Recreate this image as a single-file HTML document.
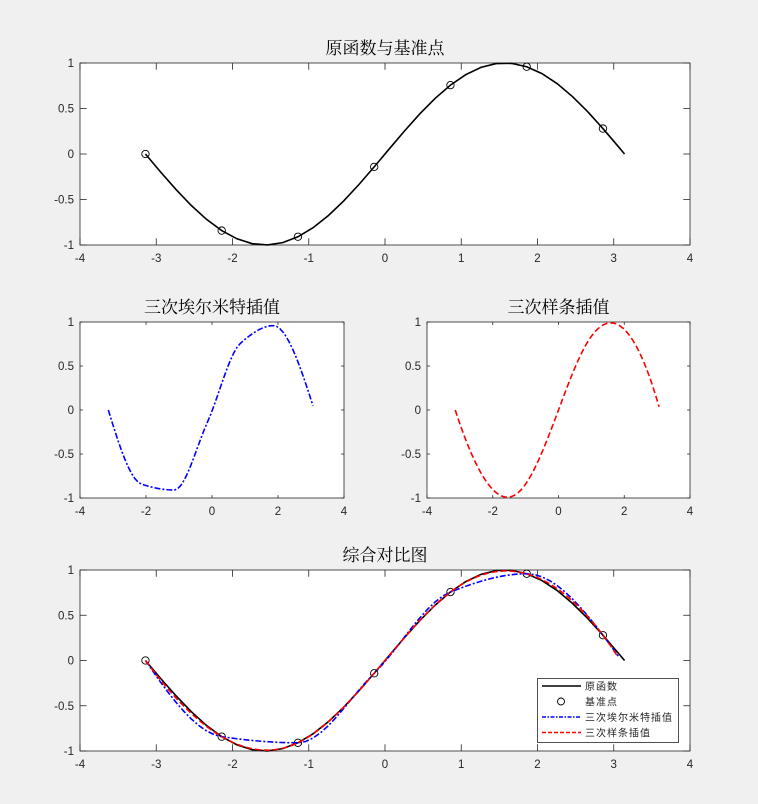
<!DOCTYPE html>
<html><head><meta charset="utf-8"><style>
body{margin:0;background:#f0f0f0;}
svg{display:block;}
.tk{font-family:"Liberation Sans",sans-serif;font-size:11.5px;fill:#262626;}
.tt{font-family:"Liberation Serif","Noto Serif CJK SC",serif;font-size:17px;fill:#000;}
.lg{font-family:"Liberation Sans","Noto Sans CJK SC",sans-serif;font-size:10px;fill:#262626;letter-spacing:1px;}
</style></head><body>
<svg id="fig" width="758" height="804" xmlns="http://www.w3.org/2000/svg"></svg>
<script>
// Base points (x = -pi + k)
const baseX = [-3.1416,-2.1416,-1.1416,-0.1416,0.8584,1.8584,2.8584];
const baseY = [0,-0.8415,-0.9093,-0.1411,0.7568,0.9589,0.2794];
// Original function samples
const origX = [-3.1416,-2.9416,-2.7416,-2.5416,-2.3416,-2.1416,-1.9416,-1.7416,-1.5416,-1.3416,-1.1416,-0.9416,-0.7416,-0.5416,-0.3416,-0.1416,0.0584,0.2584,0.4584,0.6584,0.8584,1.0584,1.2584,1.4584,1.6584,1.8584,2.0584,2.2584,2.4584,2.6584,2.8584,3.0584,3.1416];
const origY = [0,-0.1987,-0.3894,-0.5646,-0.7174,-0.8415,-0.9320,-0.9854,-0.9996,-0.9738,-0.9093,-0.8085,-0.6755,-0.5155,-0.3350,-0.1411,0.0584,0.2555,0.4425,0.6119,0.7568,0.8716,0.9516,0.9937,0.9962,0.9589,0.8835,0.7728,0.6313,0.4646,0.2794,0.0831,0];
const xTicksWide = [-4,-3,-2,-1,0,1,2,3,4];
const xTicksNarrow = [-4,-2,0,2,4];
const yTicks = [-1,-0.5,0,0.5,1];
const legendLabels = ['原函数','基准点','三次埃尔米特插值','三次样条插值'];

function pchip(x,y){
  const n=x.length,h=[],d=[];
  for(let i=0;i<n-1;i++){h.push(x[i+1]-x[i]);d.push((y[i+1]-y[i])/h[i]);}
  const m=new Array(n).fill(0);
  for(let k=1;k<n-1;k++){
    if(d[k-1]*d[k]>0){const w1=2*h[k]+h[k-1],w2=h[k]+2*h[k-1];m[k]=(w1+w2)/(w1/d[k-1]+w2/d[k]);}
  }
  function end(h0,h1,d0,d1){let s=((2*h0+h1)*d0-h0*d1)/(h0+h1);
    if(Math.sign(s)!==Math.sign(d0))s=0;else if(Math.sign(d0)!==Math.sign(d1)&&Math.abs(s)>Math.abs(3*d0))s=3*d0;return s;}
  m[0]=end(h[0],h[1],d[0],d[1]);m[n-1]=end(h[n-2],h[n-3],d[n-2],d[n-3]);
  return t=>{let i=0;while(i<n-2&&t>x[i+1])i++;const s=(t-x[i])/h[i],hh=h[i];
    const h00=2*s*s*s-3*s*s+1,h10=s*s*s-2*s*s+s,h01=-2*s*s*s+3*s*s,h11=s*s*s-s*s;
    return h00*y[i]+h10*hh*m[i]+h01*y[i+1]+h11*hh*m[i+1];};
}
function spline(x,y){
  const n=x.length,h=[];for(let i=0;i<n-1;i++)h.push(x[i+1]-x[i]);
  const A=[],b=[];for(let i=0;i<n;i++){A.push(new Array(n).fill(0));b.push(0);}
  A[0][0]=h[1];A[0][1]=-(h[0]+h[1]);A[0][2]=h[0];
  for(let i=1;i<n-1;i++){A[i][i-1]=h[i-1];A[i][i]=2*(h[i-1]+h[i]);A[i][i+1]=h[i];
    b[i]=6*((y[i+1]-y[i])/h[i]-(y[i]-y[i-1])/h[i-1]);}
  A[n-1][n-3]=h[n-2];A[n-1][n-2]=-(h[n-3]+h[n-2]);A[n-1][n-1]=h[n-3];
  for(let c=0;c<n;c++){let p=c;for(let r=c+1;r<n;r++)if(Math.abs(A[r][c])>Math.abs(A[p][c]))p=r;
    [A[c],A[p]]=[A[p],A[c]];[b[c],b[p]]=[b[p],b[c]];
    for(let r=c+1;r<n;r++){const f=A[r][c]/A[c][c];for(let k=c;k<n;k++)A[r][k]-=f*A[c][k];b[r]-=f*b[c];}}
  const M=new Array(n).fill(0);for(let r=n-1;r>=0;r--){let s=b[r];for(let k=r+1;k<n;k++)s-=A[r][k]*M[k];M[r]=s/A[r][r];}
  return t=>{let i=0;while(i<n-2&&t>x[i+1])i++;const a=x[i+1]-t,bb=t-x[i],hh=h[i];
    return M[i]*a*a*a/(6*hh)+M[i+1]*bb*bb*bb/(6*hh)+(y[i]/hh-M[i]*hh/6)*a+(y[i+1]/hh-M[i+1]*hh/6)*bb;};
}
const fineX=[];for(let k=0;k<=62;k++)fineX.push(baseX[0]+0.1*k);
const fh=pchip(baseX,baseY),fs=spline(baseX,baseY);
const hermY=fineX.map(fh),splY=fineX.map(fs);

const NS='http://www.w3.org/2000/svg',svg=document.getElementById('fig');
function el(tag,attrs,parent){const e=document.createElementNS(NS,tag);for(const k in attrs)e.setAttribute(k,attrs[k]);(parent||svg).appendChild(e);return e;}

function axes(name,x0,x1,y0,y1,xt,title){
  const g=el('g',{});
  
  
  const r=el('rect',{x:x0,y:y0,width:x1-x0,height:y1-y0,fill:'#fff',stroke:'#262626','stroke-width':0.8},g);
  
  
  const sx=v=>x0+(v+4)/8*(x1-x0),sy=v=>y1-(v+1)/2*(y1-y0);
  const tl=(x1-x0)*0.011;
  xt.forEach(v=>{const X=sx(v);
    el('line',{x1:X,x2:X,y1:y1,y2:y1-tl,stroke:'#262626','stroke-width':0.8},g);
    el('line',{x1:X,x2:X,y1:y0,y2:y0+tl,stroke:'#262626','stroke-width':0.8},g);
    const t=el('text',{x:X,y:y1+17,'text-anchor':'middle',class:'tk'},g);t.textContent=v;
    
    });
  yTicks.forEach(v=>{const Y=sy(v);
    el('line',{x1:x0,x2:x0+tl,y1:Y,y2:Y,stroke:'#262626','stroke-width':0.8},g);
    el('line',{x1:x1,x2:x1-tl,y1:Y,y2:Y,stroke:'#262626','stroke-width':0.8},g);
    const t=el('text',{x:x0-6,y:Y+4,'text-anchor':'end',class:'tk'},g);t.textContent=v;
    
    });
  const t=el('text',{x:(x0+x1)/2,y:y0-9,'text-anchor':'middle',class:'tt'},g);t.textContent=title;
  
  
  return {g,sx,sy};
}
function line(ax,xs,ys,color,dash,name){
  const d=xs.map((x,i)=>(i?'L':'M')+ax.sx(x).toFixed(2)+','+ax.sy(ys[i]).toFixed(2)).join('');
  const p=el('path',{d,fill:'none',stroke:color,'stroke-width':1.6,'stroke-dasharray':dash||'none'},ax.g);
  
  
}
function pts(ax){
  baseX.forEach((x,i)=>{const c=el('circle',{cx:ax.sx(x),cy:ax.sy(baseY[i]),r:3.7,fill:'none',stroke:'#000','stroke-width':0.9},ax.g);
    
    });
}
const a1=axes('original-axes',80,690,63,245,xTicksWide,'原函数与基准点');
line(a1,origX,origY,'#000',null,'original-line');pts(a1);
const a2=axes('hermite-axes',80,344,322,498,xTicksNarrow,'三次埃尔米特插值');
line(a2,fineX,hermY,'#0000ff','6,2,2,2','hermite-line');
const a3=axes('spline-axes',427,690,322,498,xTicksNarrow,'三次样条插值');
line(a3,fineX,splY,'#ff0000','6,3','spline-line');
const a4=axes('comparison-axes',80,690,570,751,xTicksWide,'综合对比图');
line(a4,origX,origY,'#000',null,'original-line');pts(a4);
line(a4,fineX,hermY,'#0000ff','6,2,2,2','hermite-line');
line(a4,fineX,splY,'#ff0000','6,3','spline-line');
// legend
const lg=el('g',{});


el('rect',{x:537.5,y:678.5,width:141,height:64,fill:'#fff',stroke:'#262626','stroke-width':0.8},lg);
const styles=[['#000',null],[null,null],['#0000ff','4,1.5,1.5,1.5'],['#ff0000','4,2']];
legendLabels.forEach((lab,i)=>{const Y=686+i*15.5;
  const e=el('g',{},lg);
  
  
  if(styles[i][0])el('line',{x1:542,x2:581,y1:Y,y2:Y,stroke:styles[i][0],'stroke-width':1.6,'stroke-dasharray':styles[i][1]||'none'},e);
  else el('circle',{cx:561,cy:Y,r:3.5,fill:'none',stroke:'#000','stroke-width':0.9},e);
  const t=el('text',{x:585,y:Y+4,class:'lg'},e);t.textContent=lab;});
</script>
</body></html>
